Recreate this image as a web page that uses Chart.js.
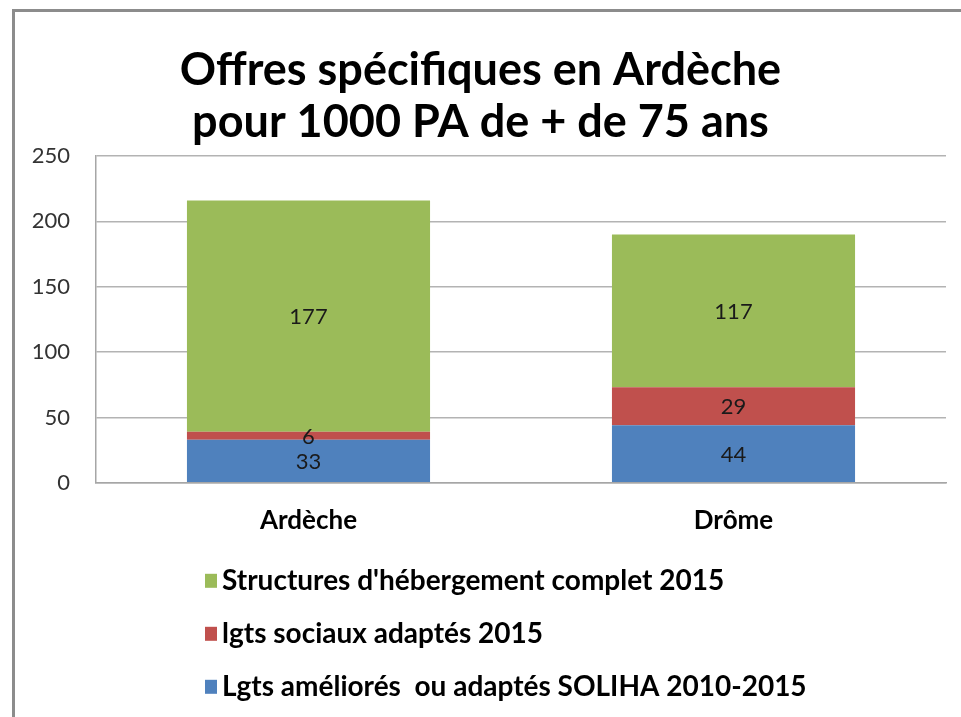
<!DOCTYPE html>
<html>
<head>
<meta charset="utf-8">
<script src="https://cdn.jsdelivr.net/npm/chart.js@4.4.0/dist/chart.umd.min.js"></script>
<style>
  html, body { margin: 0; padding: 0; background: #fff; overflow: hidden; }
  #frame {
    position: absolute; left: 12px; top: 9px;
    width: 946px; height: 705px;
    border-left: 3px solid #8c8c8c; border-top: 3px solid #8c8c8c;
  }
</style>
</head>
<body>
<div id="frame"><canvas id="chart" width="946" height="705"></canvas></div>
<script>
// data
var categories = ['Ardèche', 'Drôme'];
var soliha = [33, 44];       // Lgts améliorés ou adaptés SOLIHA 2010-2015
var sociaux = [6, 29];       // lgts sociaux adaptés 2015
var structures = [177, 117]; // Structures d'hébergement complet 2015
var seriesNames = [
    'Lgts améliorés  ou adaptés SOLIHA 2010-2015',
    'lgts sociaux adaptés 2015',
    "Structures d'hébergement complet 2015"
];
var yTicks = [0, 50, 100, 150, 200, 250];

var FONT = 'Lato, "Open Sans", sans-serif';

// values written in the middle of each block
var barLabels = {
    id: 'barLabels',
    afterDatasetsDraw: function(chart) {
        var ctx = chart.ctx;
        ctx.save();
        ctx.font = '22px ' + FONT;
        ctx.fillStyle = '#1a1a1a';
        ctx.textAlign = 'center';
        ctx.textBaseline = 'middle';
        chart.data.datasets.forEach(function(ds, i) {
            chart.getDatasetMeta(i).data.forEach(function(bar, j) {
                var mid = (bar.y + bar.base) / 2;
                ctx.fillText(ds.data[j], bar.x, mid + 1);
            });
        });
        ctx.restore();
    }
};

// legend stacked one item per row, top series first (like Excel)
var stackLegend = {
    id: 'stackLegend',
    afterDraw: function(chart) {
        var ctx = chart.ctx;
        var ds = chart.data.datasets.slice().reverse();
        var top = chart.chartArea.bottom + 98;
        ctx.save();
        ctx.font = 'bold 28px ' + FONT;
        ctx.textBaseline = 'middle';
        ds.forEach(function(d, i) {
            var y = top + i * 53;
            ctx.fillStyle = d.backgroundColor;
            ctx.fillRect(190, y - 7, 12, 14);
            ctx.fillStyle = '#000';
            ctx.fillText(d.label, 207, y);
        });
        ctx.restore();
    }
};

new Chart(document.getElementById('chart').getContext('2d'), {
    type: 'bar',
    data: {
        labels: categories,
        datasets: [
            { label: seriesNames[0], data: soliha, backgroundColor: '#4F81BD' },
            { label: seriesNames[1], data: sociaux, backgroundColor: '#C0504D' },
            { label: seriesNames[2], data: structures, backgroundColor: '#9BBB59' }
        ]
    },
    options: {
        responsive: false,
        animation: false,
        layout: { padding: { left: 0, right: 15, top: 0, bottom: 167 } },
        datasets: { bar: { categoryPercentage: 1, barPercentage: 0.572 } },
        plugins: {
            legend: { display: false },
            tooltip: { enabled: false },
            title: {
                display: true,
                text: ['Offres spécifiques en Ardèche', 'pour 1000 PA de + de 75 ans'],
                color: '#000',
                font: { family: FONT, size: 45, weight: 'bold', lineHeight: 52 / 45 },
                padding: { top: 32, bottom: 8 }
            }
        },
        scales: {
            x: {
                stacked: true,
                grid: { display: false },
                border: { color: '#a6a6a6', width: 1.5 },
                ticks: { color: '#000', padding: 14, font: { family: FONT, size: 26, weight: 'bold' } }
            },
            y: {
                stacked: true,
                min: 0,
                max: 250,
                afterBuildTicks: function(axis) {
                    axis.ticks = yTicks.map(function(v) { return { value: v }; });
                },
                afterFit: function(axis) { axis.width = 81; },
                grid: { color: '#b3b3b3', lineWidth: 1.5, drawTicks: false },
                border: { color: '#a6a6a6', width: 1.5 },
                ticks: { color: '#333', padding: 26, font: { family: FONT, size: 22 } }
            }
        }
    },
    plugins: [barLabels, stackLegend]
});
</script>
</body>
</html>
